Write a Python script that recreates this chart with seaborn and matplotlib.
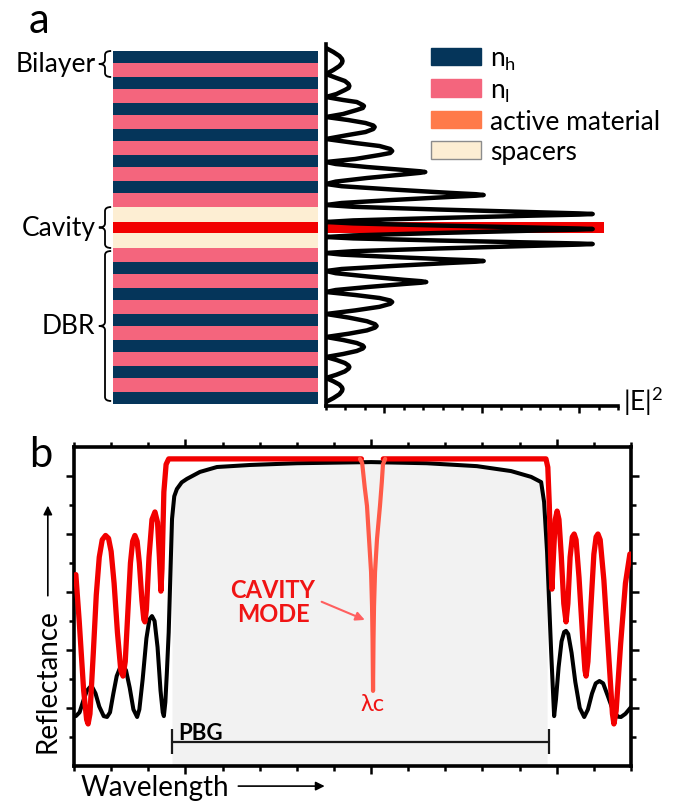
import matplotlib
matplotlib.use('Agg')
import matplotlib.pyplot as plt
import matplotlib.transforms as mtransforms
from matplotlib.patches import Patch, PathPatch
from matplotlib.path import Path
from matplotlib.ticker import FixedLocator, MultipleLocator
import numpy as np
import seaborn as sns

sns.set_style('white')
plt.rcParams['font.family'] = ['Lato', 'DejaVu Sans']
plt.rcParams['text.color'] = 'black'
plt.rcParams['mathtext.fontset'] = 'custom'
plt.rcParams['mathtext.rm'] = 'Lato'
plt.rcParams['mathtext.default'] = 'regular'

# ---------------- data: panel a (layer stack, bottom -> top) ----------------
stack_layers = ['nh', 'nl'] * 6 + ['spacer', 'active', 'spacer'] + ['nl', 'nh'] * 6
layer_thickness = {'nh': 11.7, 'nl': 14.3, 'spacer': 15.0, 'active': 11.0}
layer_colors = {'nh': '#05355a', 'nl': '#f4657d', 'spacer': '#fdeed3', 'active': '#f20000'}
legend_labels = ['n$_h$', 'n$_l$', 'active material', 'spacers']
legend_colors = ['#05355a', '#f4657d', '#ff7a4a', '#fdeed3']

# |E|^2 profile (value, position), top -> bottom
field_E = [0, 0.38, 0.69, 0.82, 0.85, 0.82, 0.69, 0.38, 0,
           0.54, 0.97, 1.16, 1.2, 1.16, 0.97, 0.54, 0,
           0.88, 1.58, 1.89, 1.95, 1.89, 1.58, 0.88, 0,
           1.13, 2.03, 2.43, 2.5, 2.43, 2.03, 1.13, 0,
           1.5, 2.75, 3.3, 3.4, 3.3, 2.75, 1.5, 0,
           0.5, 2.1, 4.0, 4.85, 5.1, 4.85, 4.0, 2.1, 0.5, 0,
           0.8, 3.4, 6.3, 7.7, 8.1, 7.7, 6.3, 3.4, 0.8, 0,
           1.4, 5.75, 10.7, 13.0, 13.7, 13.0, 10.7, 5.75, 1.4, 0,
           1.4, 5.75, 10.7, 13.0, 13.7, 13.0, 10.7, 5.75, 1.4, 0,
           1.4, 5.75, 10.7, 13.0, 13.7, 13.0, 10.7, 5.75, 1.4, 0,
           0.8, 3.4, 6.3, 7.7, 8.1, 7.7, 6.3, 3.4, 0.8, 0,
           0.5, 2.15, 4.0, 4.9, 5.15, 4.9, 4.0, 2.15, 0.5, 0,
           1.5, 2.75, 3.3, 3.4, 3.3, 2.75, 1.5, 0,
           1.17, 2.1, 2.52, 2.6, 2.52, 2.1, 1.17, 0,
           0.88, 1.58, 1.89, 1.95, 1.89, 1.58, 0.88, 0,
           0.54, 0.97, 1.16, 1.2, 1.16, 0.97, 0.54, 0,
           0.38, 0.69, 0.82, 0.85, 0.82, 0.69, 0.38, 0]
field_pos = [356, 352, 348, 345, 343, 341, 338, 334, 330,
             326, 323, 320, 318, 316, 314, 310, 307,
             304, 302, 299, 298, 296, 294, 290, 287,
             284, 281, 278.5, 277, 275, 272, 269, 265,
             261, 258, 255, 253, 251, 249, 245, 242,
             240, 237, 234, 232.7, 232, 231.2, 229.6, 226, 222.4, 220,
             217.8, 214.5, 211.2, 209.8, 209, 208.3, 207, 204, 201, 199,
             197.2, 194.5, 191.8, 190.6, 190, 189.4, 188.4, 186, 183.6, 182,
             180.6, 178.5, 176.4, 175.5, 175, 174.4, 173.4, 171, 168.6, 167,
             165.6, 163.5, 161.4, 160.5, 160, 159.4, 158.2, 155.5, 152.8, 151,
             149.4, 147, 144.6, 143.6, 143, 142.3, 141, 138, 135, 133,
             130.8, 127.5, 124.2, 122.8, 122, 121.3, 120, 117, 114, 112,
             109, 106, 103.5, 102, 100.2, 97.2, 93.6, 90,
             86.4, 82.8, 79.8, 78, 76.4, 73.6, 70.3, 67,
             64, 61, 58.5, 57, 55.5, 53, 50, 47,
             44, 41, 38.5, 37, 35.4, 32.6, 29.3, 26,
             22.7, 19.4, 16.6, 15, 13, 9.8, 5.9, 2]
active_bar_len = 14.3

# ---------------- data: panel b (reflectance spectra) ----------------
dbr_x = [0.05, 0.15, 0.25, 0.35, 0.43, 0.50, 0.58, 0.68, 0.80, 0.89, 0.97, 1.06, 1.15,
         1.25, 1.32, 1.40, 1.50, 1.60, 1.70, 1.76, 1.85, 1.95, 2.03, 2.10, 2.17, 2.25,
         2.33, 2.39, 2.42, 2.46, 2.50, 2.55, 2.60, 2.64, 2.70, 2.77, 2.90, 3.04, 3.39,
         3.85, 4.74, 6.0, 8.0, 9.5, 10.85, 11.77, 12.31, 12.58, 12.66, 12.74, 12.85,
         12.93, 12.98, 13.05, 13.13, 13.20, 13.25, 13.31, 13.40, 13.50, 13.62, 13.74,
         13.84, 13.95, 14.05, 14.15, 14.25, 14.38, 14.52, 14.65, 14.73, 14.85, 15.0]
dbr_y = [1.72, 1.85, 2.25, 2.6, 2.72, 2.7, 2.5, 2.05, 1.72, 1.69, 1.85, 2.5, 3.1,
         3.42, 3.45, 3.3, 2.7, 1.95, 1.69, 1.95, 3.0, 4.4, 5.05, 5.17, 5.0, 4.1,
         2.6, 1.85, 1.72, 2.2, 3.2, 4.6, 6.8, 8.52, 9.3, 9.55, 9.78, 9.90, 10.14,
         10.31, 10.38, 10.44, 10.48, 10.44, 10.34, 10.17, 9.97, 9.79, 9.10, 7.38, 3.93,
         1.72, 2.3, 3.4, 4.3, 4.62, 4.66, 4.55, 3.9, 2.9, 2.0, 1.69,
         1.95, 2.5, 2.85, 2.93, 2.85, 2.4, 1.9, 1.7, 1.69, 1.8, 2.03]

cav_left_x = [0.05, 0.14, 0.26, 0.34, 0.38, 0.43, 0.52, 0.60, 0.68, 0.76, 0.85, 0.93,
              1.0, 1.08, 1.17, 1.26, 1.32, 1.38, 1.45, 1.52, 1.58, 1.64, 1.70, 1.76,
              1.83, 1.88, 1.91, 1.95, 2.02, 2.10, 2.18, 2.25, 2.30, 2.34, 2.37, 2.42,
              2.48, 2.55, 7.74]
cav_left_y = [6.6, 5.0, 2.6, 1.6, 1.45, 1.8, 3.9, 5.9, 7.2, 7.8, 7.95, 7.85,
              7.4, 6.3, 4.6, 3.3, 3.1, 3.6, 5.3, 7.0, 7.75, 7.95, 7.75, 7.0,
              5.7, 5.05, 4.97, 5.4, 7.2, 8.5, 8.76, 8.4, 7.2, 6.03, 6.8, 9.45,
              10.4, 10.59, 10.59]
cav_right_x = [8.33, 12.71, 12.76, 12.80, 12.84, 12.87, 12.91, 12.96, 13.01, 13.06, 13.12,
               13.19, 13.25, 13.30, 13.36, 13.42, 13.47, 13.52, 13.60, 13.70, 13.76,
               13.79, 13.84, 13.92, 14.0, 14.06, 14.11, 14.17, 14.27, 14.40, 14.50,
               14.54, 14.60, 14.72, 14.85, 14.97]
cav_right_y = [10.59, 10.59, 10.3, 9.0, 7.0, 6.10, 7.2, 8.5, 8.79, 8.5, 7.3,
               5.6, 4.97, 5.6, 7.2, 7.9, 8.0, 7.8, 6.5, 4.4, 3.3,
               3.10, 3.6, 5.5, 7.3, 7.9, 8.0, 7.8, 6.4, 3.8, 1.8,
               1.45, 1.9, 4.2, 6.3, 7.31]
dip_x = [7.70, 7.76, 7.83, 7.89, 7.945, 8.0, 8.026, 8.04, 8.053, 8.066, 8.08, 8.107,
         8.16, 8.24, 8.29, 8.32, 8.38]
dip_y = [10.59, 10.45, 9.6, 8.97, 7.83, 6.69, 5.52, 4.38, 2.59, 4.38, 5.52, 6.69,
         7.83, 8.97, 9.8, 10.4, 10.59]
pbg_start, pbg_end = 2.64, 12.79
lambda_c = 8.05

# ---------------- figure ----------------
W, H = 688, 804
fig = plt.figure(figsize=(W / 100, H / 100), dpi=100)


def px_axes(x0, y0, x1, y1):
    return fig.add_axes([x0 / W, 1 - y1 / H, (x1 - x0) / W, (y1 - y0) / H])


# layer stack
ax_s = px_axes(113, 52, 318, 405)
bottoms = np.cumsum([0] + [layer_thickness[m] for m in stack_layers[:-1]])
for m, b in zip(stack_layers, bottoms):
    ax_s.bar(0, layer_thickness[m], bottom=b, width=1, align='edge',
             color=layer_colors[m], linewidth=0)
total = bottoms[-1] + layer_thickness[stack_layers[-1]]
ax_s.set_xlim(0, 1)
ax_s.set_ylim(0, total)
ax_s.axis('off')

bt = mtransforms.blended_transform_factory(ax_s.transAxes, ax_s.transData)


def brace(y0, y1, x_line=-0.039, depth=0.03, hook=0.03):
    ym = (y0 + y1) / 2
    r = min(4.0, (y1 - y0) / 6)
    verts = [(x_line + hook, y0), (x_line, y0), (x_line, y0 + r),
             (x_line, ym - r), (x_line, ym), (x_line - depth, ym),
             (x_line, ym), (x_line, ym + r),
             (x_line, y1 - r), (x_line, y1), (x_line + hook, y1)]
    codes = [Path.MOVETO, Path.CURVE3, Path.CURVE3, Path.LINETO, Path.CURVE3, Path.CURVE3,
             Path.CURVE3, Path.CURVE3, Path.LINETO, Path.CURVE3, Path.CURVE3]
    ax_s.add_patch(PathPatch(Path(verts, codes), fc='none', ec='black', lw=1.3,
                             transform=bt, clip_on=False))
    return ym


i_act = stack_layers.index('active')
cav_lo = bottoms[i_act - 1]
cav_hi = bottoms[i_act + 1] + layer_thickness['spacer']
groups = [('Bilayer', total - layer_thickness['nh'] - layer_thickness['nl'], total),
          ('Cavity', cav_lo, cav_hi),
          ('DBR', 3, cav_lo - 3)]
for name, lo, hi in groups:
    ym = brace(lo, hi)
    ax_s.text(-0.085, ym, name, transform=bt, ha='right', va='center', fontsize=19)

# field profile
ax_f = px_axes(326, 45, 618, 407)
ax_f.barh(bottoms[i_act] + layer_thickness['active'] / 2, active_bar_len,
          height=layer_thickness['active'], left=0, color=layer_colors['active'],
          linewidth=0, zorder=1)
sns.lineplot(x=field_E, y=field_pos, sort=False, estimator=None, color='black',
             lw=3.2, ax=ax_f, zorder=2)
ax_f.set_xlim(0, 15)
ax_f.set_ylim(-2, 360)
for s in ['top', 'right']:
    ax_f.spines[s].set_visible(False)
for s in ['left', 'bottom']:
    ax_f.spines[s].set_linewidth(2.6)
    ax_f.spines[s].set_color('black')
ax_f.xaxis.set_major_locator(FixedLocator([3, 8, 13]))
ax_f.xaxis.set_minor_locator(MultipleLocator(1))
ax_f.set_yticks([])
ax_f.tick_params(axis='x', which='both', direction='out', bottom=True, labelbottom=False,
                 width=1.8, color='black')
ax_f.tick_params(axis='x', which='major', length=5)
ax_f.tick_params(axis='x', which='minor', length=3)
ax_f.set_xlabel('')
fig.text(623 / W, 1 - 402 / H, '|E|$^2$', fontsize=19, va='center', ha='left')

handles = [Patch(fc=c, ec=('#8c8c8c' if l == 'spacers' else c), lw=1, label=l)
           for l, c in zip(legend_labels, legend_colors)]
fig.legend(handles=handles, loc='upper left', bbox_to_anchor=(431 / W, 1 - 47 / H),
           frameon=False, fontsize=19, handlelength=1.9, handleheight=0.64,
           handletextpad=0.35, labelspacing=0.2, borderpad=0, borderaxespad=0)

# panel b
ax_b = px_axes(74, 448, 631, 767)
bx, by = np.array(dbr_x), np.array(dbr_y)
mask = (bx >= pbg_start) & (bx <= pbg_end)
ax_b.fill_between(bx[mask], 0, by[mask], color='#f2f2f2', lw=0, zorder=0)
sns.lineplot(x=dbr_x, y=dbr_y, sort=False, estimator=None, color='black', lw=2.9,
             ax=ax_b, zorder=2)
sns.lineplot(x=cav_left_x, y=cav_left_y, sort=False, estimator=None, color='#f20000',
             lw=3.8, ax=ax_b, zorder=3)
sns.lineplot(x=cav_right_x, y=cav_right_y, sort=False, estimator=None, color='#f20000',
             lw=3.8, ax=ax_b, zorder=3)
sns.lineplot(x=dip_x, y=dip_y, sort=False, estimator=None, color='#ff5a48',
             lw=3.0, ax=ax_b, zorder=3)
ax_b.set_xlim(0, 15)
ax_b.set_ylim(0, 11)
for s in ax_b.spines.values():
    s.set_visible(True)
    s.set_linewidth(2.6)
    s.set_color('black')
ax_b.xaxis.set_major_locator(FixedLocator([3, 8, 13]))
ax_b.xaxis.set_minor_locator(MultipleLocator(1))
ax_b.yaxis.set_major_locator(FixedLocator([2, 4, 6, 8, 10]))
ax_b.yaxis.set_minor_locator(FixedLocator([1, 3, 5, 7, 9]))
ax_b.tick_params(which='both', direction='out', top=True, bottom=True, left=True, right=True,
                 labelbottom=False, labelleft=False, width=1.8, color='black')
ax_b.tick_params(which='major', length=5.5)
ax_b.tick_params(which='minor', length=3.5)
ax_b.set_xlabel('')
ax_b.set_ylabel('')

# PBG bracket
ax_b.plot([pbg_start, pbg_end], [0.83, 0.83], color='#1a1a1a', lw=1.6, zorder=4)
ax_b.vlines([pbg_start, pbg_end], 0.41, 1.28, color='#1a1a1a', lw=1.6, zorder=4)
ax_b.text(pbg_start + 0.16, 1.17, 'PBG', fontsize=16, fontweight='bold', ha='left',
          va='center', zorder=5, color='black')

ax_b.text(5.36, 5.66, 'CAVITY\nMODE', color='#f01414', fontsize=17, fontweight='bold',
          ha='center', va='center', linespacing=1.05)
ax_b.annotate('', xy=(7.9, 5.0), xytext=(6.6, 5.7),
              arrowprops=dict(arrowstyle='-|>', color='#ff5f5f', lw=1.5, mutation_scale=13))
ax_b.text(lambda_c, 2.14, 'λc', color='#f01414', fontsize=17, ha='center', va='center',
          family=['Lato', 'DejaVu Sans'])

ax_b.text(-0.048, 0.27, 'Reflectance', rotation=90, transform=ax_b.transAxes,
          ha='center', va='center', fontsize=20)
ax_b.annotate('', xy=(-0.047, 0.825), xytext=(-0.047, 0.525), xycoords='axes fraction',
              arrowprops=dict(arrowstyle='-|>', color='black', lw=1.2, mutation_scale=13))
ax_b.text(0.011, -0.066, 'Wavelength', transform=ax_b.transAxes, ha='left', va='center',
          fontsize=20)
ax_b.annotate('', xy=(0.455, -0.063), xytext=(0.29, -0.063), xycoords='axes fraction',
              arrowprops=dict(arrowstyle='-|>', color='black', lw=1.2, mutation_scale=13))

fig.text(29 / W, 1 - 33 / H, 'a', fontsize=30, va='baseline', ha='left')
fig.text(29 / W, 1 - 467 / H, 'b', fontsize=30, va='baseline', ha='left')

fig.savefig('out.png', dpi=100)
